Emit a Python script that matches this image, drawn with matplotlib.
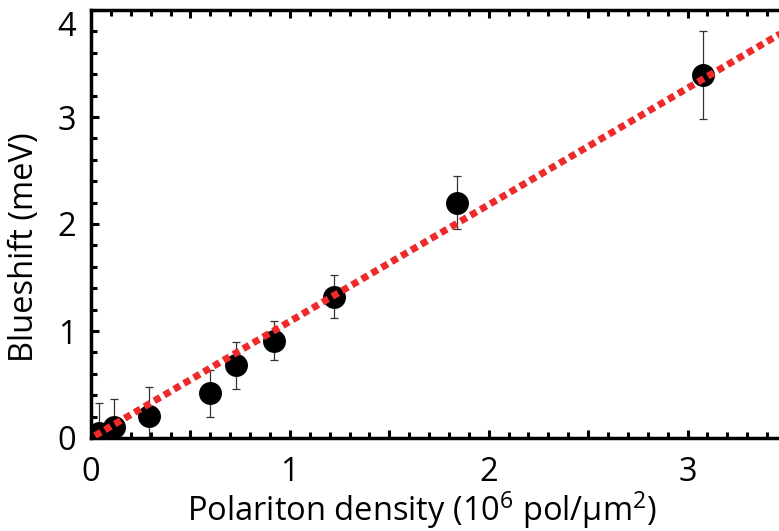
import matplotlib
matplotlib.use("Agg")
import matplotlib.pyplot as plt
from matplotlib.ticker import MultipleLocator
from matplotlib.transforms import ScaledTranslation
import numpy as np

density = [0.04, 0.115, 0.29, 0.60, 0.73, 0.92, 1.22, 1.84, 3.08]
blueshift = [0.05, 0.10, 0.21, 0.42, 0.68, 0.91, 1.32, 2.20, 3.39]
err = [0.28, 0.26, 0.27, 0.22, 0.22, 0.18, 0.20, 0.25, 0.41]
fit_x = [0.02, 3.6]
fit_slope = 1.09
y_ticks = [0, 1, 2, 3, 4]

plt.rcParams['font.family'] = ['Open Sans', 'DejaVu Sans']
plt.rcParams['mathtext.fontset'] = 'custom'
plt.rcParams['mathtext.rm'] = 'Open Sans'
plt.rcParams['mathtext.it'] = 'Open Sans:italic'
plt.rcParams['mathtext.bf'] = 'Open Sans:bold'

fig = plt.figure(figsize=(7.79, 5.31), dpi=100)
ax = fig.add_axes([91/779, 93/531, (787-91)/779, (438-10)/531])

ax.errorbar(density, blueshift, yerr=err, fmt='none', ecolor='#333333',
            elinewidth=0.9, capsize=3, capthick=0.9, zorder=2)
ax.plot(density, blueshift, 'o', color='black', markersize=15.5, zorder=3)
fx = np.array(fit_x)
ax.plot(fx, fit_slope * fx, color='#ee2a2a', lw=5, dashes=(1, 0.65),
        dash_capstyle='butt', zorder=4)

ax.set_xlim(0, 3.5)
ax.set_ylim(0, 4)
ax.xaxis.set_major_locator(MultipleLocator(0.5))
ax.xaxis.set_minor_locator(MultipleLocator(0.1))
ax.set_yticks(y_ticks)
ax.yaxis.set_minor_locator(MultipleLocator(0.2))
ax.xaxis.set_major_formatter(plt.FuncFormatter(
    lambda v, p: f"{int(round(v))}" if abs(v - round(v)) < 1e-6 else ""))
ax.tick_params(which='both', direction='in', top=True, right=True, width=2.2, labelsize=23.5)
ax.tick_params(which='major', length=6)
ax.tick_params(which='minor', length=4)
ax.tick_params(axis='x', pad=13.3)
ax.tick_params(axis='y', pad=10.5)
for s in ax.spines.values():
    s.set_linewidth(2.5)

ax.set_xlabel('Polariton density (10$^{6}$ pol/μm$^{2}$)', fontsize=23.5)
ax.xaxis.label.set_va('baseline')
ax.xaxis.set_label_coords(0.476, -0.194)
ax.set_ylabel('Blueshift (meV)', fontsize=23.5)
ax.yaxis.label.set_va('baseline')
ax.yaxis.set_label_coords(-0.0833, 0.445)

fig.canvas.draw()
top_lab = ax.yaxis.get_major_ticks()[-1].label1
top_lab.set_va('top')
top_lab.set_transform(top_lab.get_transform() +
                      ScaledTranslation(0, -0.015, fig.dpi_scale_trans))

fig.savefig('out.png', dpi=100)
